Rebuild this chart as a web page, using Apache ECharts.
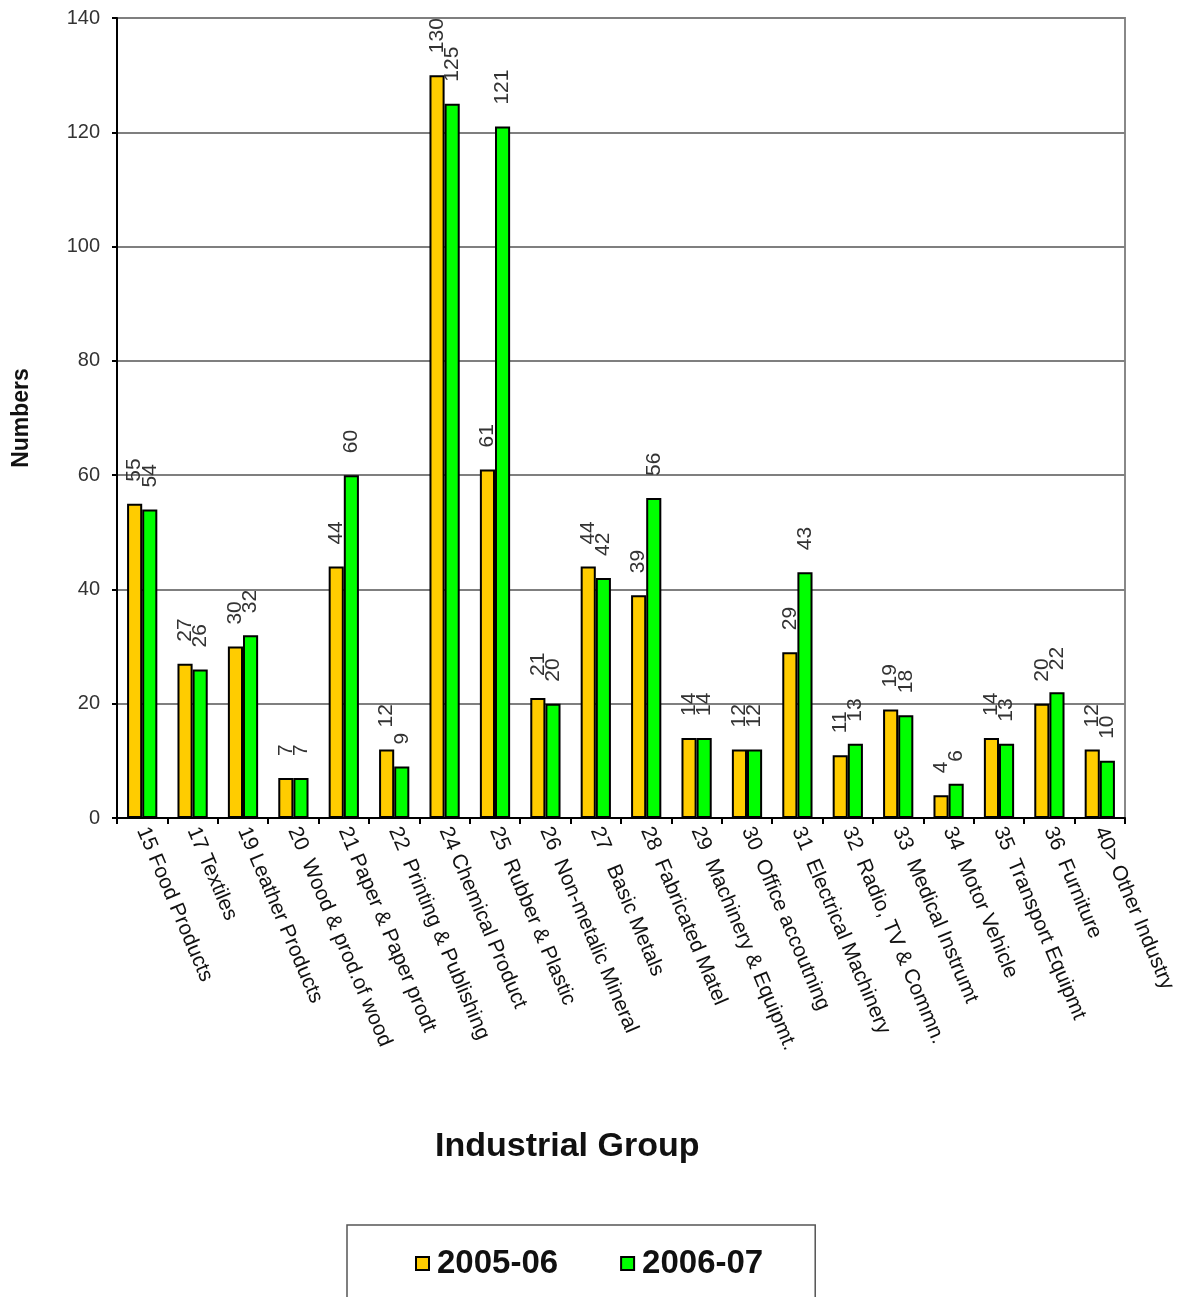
<!DOCTYPE html>
<html>
<head>
<meta charset="utf-8">
<script src="https://cdn.jsdelivr.net/npm/echarts@6/dist/echarts.min.js"></script>
<style>
html,body{margin:0;padding:0;background:#fff;}
#chart{width:1179px;height:1297px;}
</style>
</head>
<body>
<div id="chart"></div>
<script>
var categories = [
  "15 Food Products", "17 Textiles", "19 Leather Products", "20  Wood & prod.of wood",
  "21 Paper & Paper prodt", "22  Printing & Publishing", "24 Chemical Product",
  "25  Rubber & Plastic", "26  Non-metalic Mineral", "27   Basic Metals",
  "28  Fabricated Matel", "29  Machinery & Equipmt.", "30  Office accoutning",
  "31  Electrical Machinery", "32  Radio, TV & Commn.", "33  Medical Instrumt",
  "34  Motor Vehicle", "35  Transport Equipmt", "36  Furniture", "40> Other Industry"
];
var values2005 = [55, 27, 30, 7, 44, 12, 130, 61, 21, 44, 39, 14, 12, 29, 11, 19, 4, 14, 20, 12];
var values2006 = [54, 26, 32, 7, 60, 9, 125, 121, 20, 42, 56, 14, 12, 43, 13, 18, 6, 13, 22, 10];
var seriesNames = ["2005-06", "2006-07"];
var yTicks = {min: 0, max: 140, interval: 20};

var FONT = '"Liberation Sans", Arial, sans-serif';
var chart = echarts.init(document.getElementById('chart'));

function labelCfg() {
  return {
    show: true, position: 'top', rotate: 90, align: 'left', verticalAlign: 'middle',
    distance: 22, fontSize: 21, color: '#333', fontFamily: FONT
  };
}

chart.setOption({
  animation: false,
  backgroundColor: '#fff',
  title: {
    text: 'Industrial Group',
    left: 435, top: 1127, padding: 0,
    textStyle: {fontSize: 34, fontWeight: 'bold', color: '#111', fontFamily: FONT, lineHeight: 40}
  },
  grid: {
    left: 117, right: 54, top: 18, bottom: 479,
    containLabel: false, outerBoundsMode: 'none',
    show: true, borderColor: '#888', borderWidth: 2, backgroundColor: 'transparent'
  },
  legend: {
    data: seriesNames,
    left: 347, top: 1225,
    padding: [22, 52, 40, 68],
    borderColor: '#555', borderWidth: 1.5,
    itemWidth: 13, itemHeight: 13, itemGap: 62,
    icon: 'rect',
    textStyle: {fontSize: 33, fontWeight: 'bold', color: '#111', fontFamily: FONT, padding: [0, 0, 0, 3]}
  },
  xAxis: {
    type: 'category',
    data: categories,
    axisLine: {lineStyle: {color: '#000', width: 2}},
    axisTick: {show: true, length: 6, lineStyle: {color: '#000', width: 2}},
    axisLabel: {interval: 0, rotate: -67, fontSize: 21, color: '#111', fontFamily: FONT, margin: 10}
  },
  yAxis: {
    type: 'value',
    min: yTicks.min, max: yTicks.max, interval: yTicks.interval,
    name: 'Numbers',
    nameLocation: 'middle',
    nameGap: 84,
    nameRotate: 90,
    nameTextStyle: {fontSize: 23, fontWeight: 'bold', color: '#111', fontFamily: FONT},
    axisLine: {show: true, lineStyle: {color: '#000', width: 2}},
    axisTick: {show: true, length: 5, lineStyle: {color: '#000', width: 2}},
    axisLabel: {fontSize: 20, color: '#333', fontFamily: FONT, margin: 17},
    splitLine: {show: true, lineStyle: {color: '#7f7f7f', width: 2}}
  },
  series: [
    {
      name: seriesNames[0], type: 'bar', data: values2005,
      barGap: '0%', barCategoryGap: '40%',
      itemStyle: {color: '#FFCC00', borderColor: '#000', borderWidth: 2},
      label: labelCfg()
    },
    {
      name: seriesNames[1], type: 'bar', data: values2006,
      barGap: '0%', barCategoryGap: '40%',
      itemStyle: {color: '#00FF00', borderColor: '#000', borderWidth: 2},
      label: labelCfg()
    }
  ]
});
</script>
</body>
</html>
